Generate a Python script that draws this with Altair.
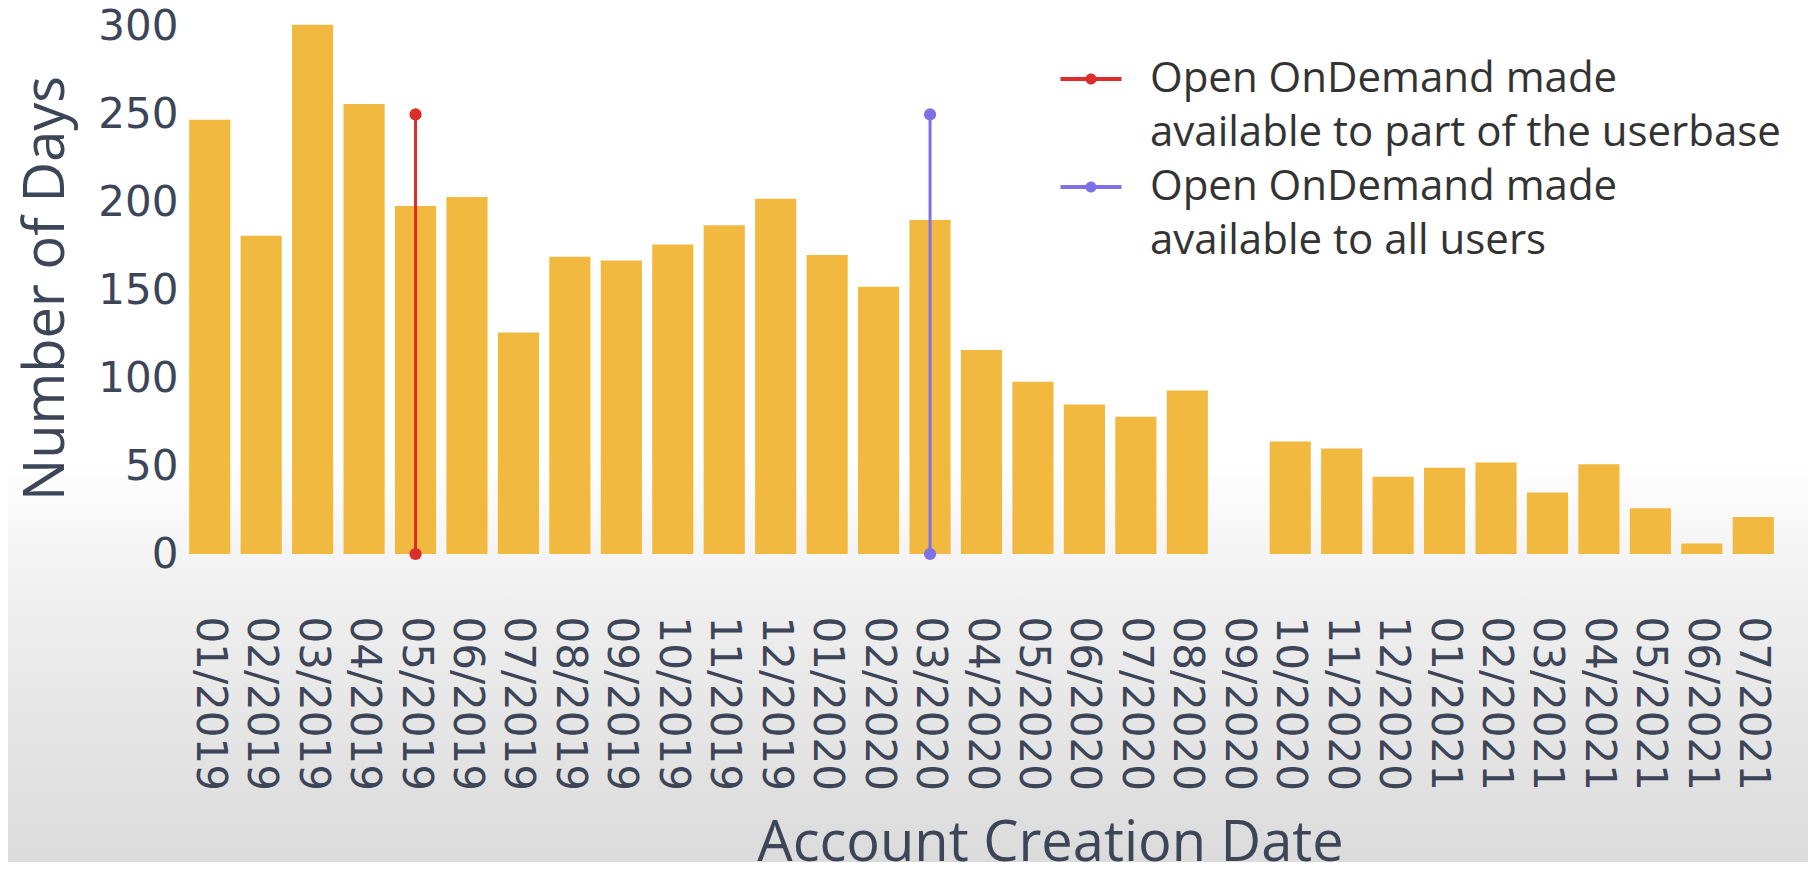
import altair as alt
import pandas as pd

months = ["01/2019", "02/2019", "03/2019", "04/2019", "05/2019", "06/2019", "07/2019",
          "08/2019", "09/2019", "10/2019", "11/2019", "12/2019", "01/2020", "02/2020",
          "03/2020", "04/2020", "05/2020", "06/2020", "07/2020", "08/2020", "09/2020",
          "10/2020", "11/2020", "12/2020", "01/2021", "02/2021", "03/2021", "04/2021",
          "05/2021", "06/2021", "07/2021"]
days = [247, 181, 301, 256, 198, 203, 126, 169, 167, 176, 187, 202, 170, 152,
        190, 116, 98, 85, 78, 93, None, 64, 60, 44, 49, 52, 35, 51, 26, 6, 21]

event_months = ["05/2019", "03/2020"]
event_line1 = ["Open OnDemand made", "Open OnDemand made"]
event_line2 = ["available to part of the userbase", "available to all users"]
event_start = [0, 0]
event_end = [250, 250]
event_colors = ["#dc2c2c", "#7d70e8"]

y_ticks = [0, 50, 100, 150, 200, 250, 300]

W, H = 1595, 538
AXIS_COLOR = "#3d4658"

# legend keys: each event gets its own entry, its second text line is an extra
# entry with an invisible symbol (label text = part before '|')
event_keys = [f"{l1}|{i}a" for i, l1 in enumerate(event_line1)]
legend_domain, legend_range = [], []
for i in range(len(event_months)):
    legend_domain += [event_keys[i], f"{event_line2[i]}|{i}b"]
    legend_range += [event_colors[i], "transparent"]

bars_df = pd.DataFrame({"month": months, "days": days})
rules_df = pd.DataFrame({"month": event_months, "event": event_keys,
                         "y0": event_start, "y1": event_end})
pts_df = pd.DataFrame({
    "month": event_months + event_months,
    "event": event_keys + event_keys,
    "days": event_start + event_end,
})

x_enc = alt.X("month:N", sort=months,
              scale=alt.Scale(domain=months, paddingInner=0.2, paddingOuter=0.1),
              axis=alt.Axis(title="Account Creation Date", labelAngle=90,
                            labelFont="DejaVu Sans", labelFontSize=42,
                            labelColor=AXIS_COLOR, labelPadding=62, ticks=False,
                            domain=False, titleFont="Open Sans", titleFontSize=56,
                            titleFontWeight="normal", titleColor=AXIS_COLOR,
                            titleX=866, titleY=306, titleBaseline="alphabetic",
                            titleAlign="center", zindex=1))
y_scale = alt.Scale(domain=[0, 306], nice=False)
y_axis = alt.Axis(title="Number of Days", values=y_ticks, grid=False, ticks=False,
                  domain=False, labelFont="DejaVu Sans", labelFontSize=42,
                  labelColor=AXIS_COLOR, labelPadding=6, titleFont="Open Sans",
                  titleFontSize=56, titleFontWeight="normal", titleColor=AXIS_COLOR,
                  titleX=-138, titleY=272, titleAngle=270, titleBaseline="middle",
                  titleAlign="center", zindex=1)

color_scale = alt.Scale(domain=legend_domain, range=legend_range)

bg = alt.Chart(pd.DataFrame({"bg": [0]})).mark_rect(
    fill=alt.LinearGradient(
        gradient="linear", x1=0, x2=0, y1=0, y2=1,
        stops=[alt.GradientStop(offset=0, color="#ffffff"),
               alt.GradientStop(offset=0.35, color="#efefef"),
               alt.GradientStop(offset=1, color="#dadada")])
).encode(x=alt.value(-200), x2=alt.value(W + 40), y=alt.value(440), y2=alt.value(860))

bars = alt.Chart(bars_df).mark_bar(color="#f2b940").encode(
    x=x_enc,
    y=alt.Y("days:Q", scale=y_scale, axis=y_axis),
)

# legend glyph: short line with a dot
legend_symbol = ("M-1.525,-0.1H1.525V0.1H-1.525Z"
                 "M0.275,0A0.275,0.275,0,1,1,-0.275,0A0.275,0.275,0,1,1,0.275,0Z")

points = alt.Chart(pts_df).mark_point(filled=True, size=150, opacity=1).encode(
    x=alt.X("month:N", sort=months),
    y=alt.Y("days:Q"),
    color=alt.Color("event:N", scale=color_scale,
                    legend=alt.Legend(title=None, orient="none", legendX=886, legendY=42,
                                      symbolType=legend_symbol, symbolSize=1600,
                                      symbolStrokeWidth=0, symbolOpacity=1,
                                      labelExpr="split(datum.label, '|')[0]",
                                      labelFont="Open Sans", labelFontSize=42,
                                      labelColor="#333333", labelLimit=0,
                                      labelOffset=38, labelBaseline="middle",
                                      rowPadding=12, padding=0)),
)

rules = alt.Chart(rules_df).mark_rule(strokeWidth=3).encode(
    x=alt.X("month:N", sort=months),
    y=alt.Y("y0:Q"),
    y2="y1:Q",
    stroke=alt.Stroke("event:N", scale=color_scale, legend=None),
)

chart = alt.layer(bg, bars, points, rules).properties(
    width=W, height=H,
    autosize=alt.AutoSizeParams(type="none"),
    padding={"left": 176, "top": 8, "right": 29, "bottom": 308},
).configure_view(stroke="transparent", strokeWidth=0)

chart.save("out.html", embed_options={"renderer": "svg", "actions": False})
